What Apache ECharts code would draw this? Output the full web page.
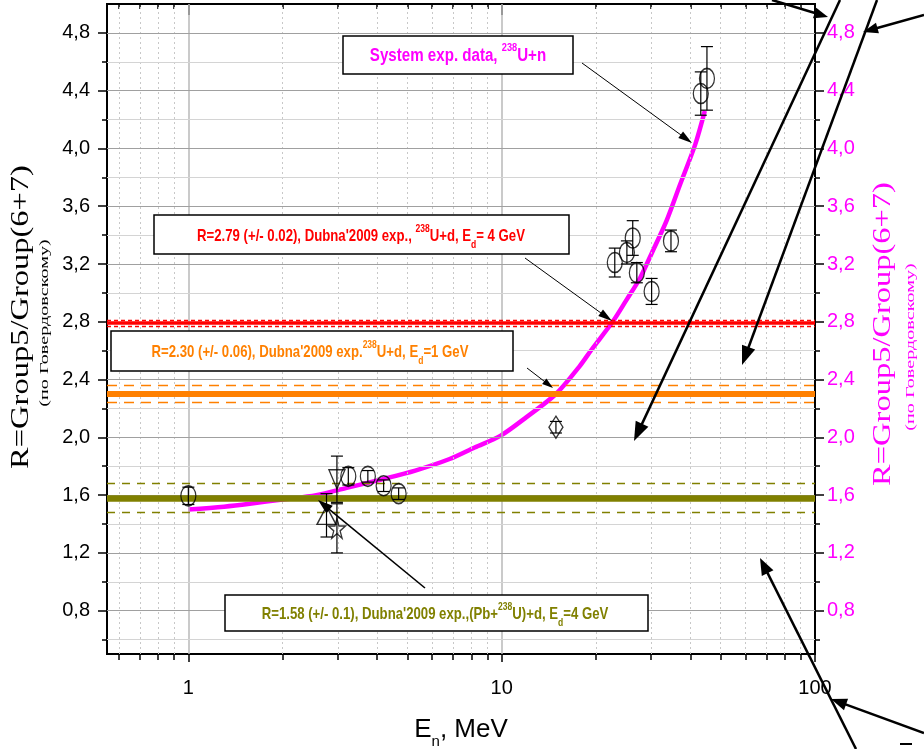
<!DOCTYPE html>
<html>
<head>
<meta charset="utf-8">
<script src="https://cdn.jsdelivr.net/npm/echarts@6/dist/echarts.min.js"></script>
<style>
html,body{margin:0;padding:0;background:#fff;}
#chart{width:924px;height:749px;}
</style>
</head>
<body>
<div id="chart"></div>
<script>
// Systematics curve for 238U+n: neutron energy (MeV) and ratio R
const curveE = [1.0, 1.3, 1.57, 2.0, 2.56, 3.2, 4.16, 5.3, 6.82, 8.2, 9.9, 12.0, 14.9, 17.7, 19.4, 22.6, 25.0, 27.6, 30.2, 33.6, 37.1, 41.5, 44.5];
const curveR = [1.50, 1.52, 1.54, 1.57, 1.60, 1.65, 1.71, 1.77, 1.85, 1.93, 2.01, 2.14, 2.30, 2.49, 2.61, 2.80, 2.95, 3.10, 3.28, 3.50, 3.75, 4.03, 4.26];

// Measured points, open circles
const circE   = [1.0, 3.24, 3.74, 4.2, 4.69, 22.96, 25.1, 26.2, 27.0, 30.1, 34.7, 43.2, 45.2];
const circR   = [1.595, 1.73, 1.73, 1.665, 1.61, 3.21, 3.28, 3.38, 3.14, 3.01, 3.36, 4.38, 4.485];
const circErr = [0.06, 0.06, 0.04, 0.04, 0.04, 0.10, 0.08, 0.12, 0.07, 0.09, 0.075, 0.15, 0.22];

// Other measurements (triangles, star, diamond)
const triDownE = [2.98], triDownR = [1.71], triDownErr = [0.16];
const triUpE   = [2.76], triUpR   = [1.46], triUpErr   = [0.15];
const starE    = [2.98], starR    = [1.37], starErr    = [0.17];
const diamE    = [14.9], diamR    = [2.07], diamErr    = [0.04];

// Dubna'2009 results: mean value and its uncertainty
const refR      = [2.79, 2.30, 1.58];
const refErr    = [0.02, 0.06, 0.1];
const refColors = ['#ff0000', '#ff8000', '#808000'];

// Axis ticks
const xMajor = [1, 10, 100];
const xMinor = [0.6, 0.7, 0.8, 0.9, 2, 3, 4, 5, 6, 7, 8, 9, 20, 30, 40, 50, 60, 70, 80, 90];
const yMajor = [0.8, 1.2, 1.6, 2.0, 2.4, 2.8, 3.2, 3.6, 4.0, 4.4, 4.8];
const yMinor = [0.6, 1.0, 1.4, 1.8, 2.2, 2.6, 3.0, 3.4, 3.8, 4.2, 4.6];

const SANS = '"Liberation Sans", Arial, sans-serif';
const SERIF = '"Liberation Serif", "Times New Roman", serif';

const zip3 = (a, b, c) => a.map((v, i) => [v, b[i], c[i]]);
const zip2 = (a, b) => a.map((v, i) => [v, b[i]]);

const chart = echarts.init(document.getElementById('chart'), null, {renderer: 'canvas'});

const axisLineStyle = {show: true, onZero: false, lineStyle: {color: '#000', width: 2}};
const tickStyle = {color: '#000', width: 1.5};

function xAx(position, values, len, inside, labels) {
  return {
    type: 'log', logBase: 10, min: 0.55, max: 100, position: position,
    axisLine: axisLineStyle,
    splitLine: {show: false},
    axisTick: {show: true, inside: inside, length: len, customValues: values, lineStyle: tickStyle},
    axisLabel: labels ? {
      show: true, customValues: values, margin: 24, fontSize: 20, color: '#000', fontFamily: SANS,
      formatter: v => String(Math.round(v))
    } : {show: false}
  };
}
function yAx(position, values, len, labels, color) {
  return {
    type: 'value', min: 0.5, max: 5.0, position: position,
    axisLine: axisLineStyle,
    splitLine: {show: false},
    axisTick: {show: true, inside: false, length: len, customValues: values, lineStyle: tickStyle},
    axisLabel: labels ? {
      show: true, customValues: values, margin: position === 'left' ? 17 : 12, fontSize: 20,
      color: color, fontFamily: SANS,
      formatter: v => v.toFixed(1).replace('.', ',')
    } : {show: false}
  };
}

// Grid lines drawn as mark lines so major and minor lines can differ
const gridLines = [];
xMajor.slice(0, 2).forEach(v => gridLines.push({xAxis: v, lineStyle: {color: '#b8b8b8', width: 1.5, type: 'solid'}}));
xMinor.forEach(v => gridLines.push({xAxis: v, lineStyle: {color: '#c8c8c8', width: 1, type: [2, 3]}}));
yMajor.forEach(v => gridLines.push({yAxis: v, lineStyle: {color: '#a0a0a0', width: 1.2, type: 'solid'}}));
yMinor.forEach(v => gridLines.push({yAxis: v, lineStyle: {color: '#d4d4d4', width: 1.2, type: 'solid'}}));

// Dubna'2009 levels: thick mean line with dashed uncertainty limits
const dashes = [[4, 3], [10, 7], [8, 7]];
const meanWidth = [3.5, 6, 6.5];
const refLines = [];
refR.forEach((r, i) => {
  refLines.push({yAxis: r, lineStyle: {color: refColors[i], width: meanWidth[i], type: 'solid'}});
  refLines.push({yAxis: r + refErr[i], lineStyle: {color: refColors[i], width: 1.3, type: dashes[i]}});
  refLines.push({yAxis: r - refErr[i], lineStyle: {color: refColors[i], width: 1.3, type: dashes[i]}});
});

function errorBars(params, api) {
  const x = api.value(0), y = api.value(1), e = api.value(2);
  const hi = api.coord([x, y + e]);
  const lo = api.coord([x, y - e]);
  const hw = 6;
  const st = {stroke: '#000', lineWidth: 1.2};
  return {
    type: 'group',
    children: [
      {type: 'line', shape: {x1: hi[0], y1: hi[1], x2: lo[0], y2: lo[1]}, style: st},
      {type: 'line', shape: {x1: hi[0] - hw, y1: hi[1], x2: hi[0] + hw, y2: hi[1]}, style: st},
      {type: 'line', shape: {x1: lo[0] - hw, y1: lo[1], x2: lo[0] + hw, y2: lo[1]}, style: st}
    ]
  };
}

const hollow = {color: 'rgba(0,0,0,0)', borderColor: '#000', borderWidth: 1.4};
const starPath = 'path://M50,0 L61,35 L98,35 L68,57 L79,91 L50,70 L21,91 L32,57 L2,35 L39,35 Z';

function scatter(name, E, R, symbol, size, rotate) {
  return {
    name: name, type: 'scatter', data: zip2(E, R), symbol: symbol, symbolSize: size,
    symbolRotate: rotate || 0, itemStyle: hollow, z: 6, silent: true
  };
}

// Arrow helper for annotations: line from (x1,y1) to the tip (x2,y2)
function arrow(x1, y1, x2, y2, w, hl, hw) {
  const dx = x2 - x1, dy = y2 - y1, L = Math.hypot(dx, dy);
  const ux = dx / L, uy = dy / L;
  const bx = x2 - ux * hl, by = y2 - uy * hl;
  return [
    {type: 'line', z: 60, silent: true, shape: {x1: x1, y1: y1, x2: bx + ux * 2, y2: by + uy * 2},
     style: {stroke: '#000', lineWidth: w}},
    {type: 'polygon', z: 60, silent: true,
     shape: {points: [[x2, y2], [bx - uy * hw / 2, by + ux * hw / 2], [bx + uy * hw / 2, by - ux * hw / 2]]},
     style: {fill: '#000'}}
  ];
}

function boxRich(color, size) {
  const s = Math.round(size * 0.62);
  return {
    m: {fill: color, fontFamily: SANS, fontWeight: 'bold', fontSize: size, lineHeight: size + 3,
        padding: [Math.round(size * 0.3), 0, 0, 0], verticalAlign: 'top'},
    sup: {fill: color, fontFamily: SANS, fontWeight: 'bold', fontSize: s, lineHeight: s, verticalAlign: 'top'},
    sub: {fill: color, fontFamily: SANS, fontWeight: 'bold', fontSize: s, lineHeight: s,
          padding: [Math.round(size * 0.95), 0, 0, 0], verticalAlign: 'top'}
  };
}

// Framed label; the bold text is condensed horizontally to a narrow face
function textBox(x, y, w, h, cx, cy, text, color, size, squeeze) {
  return [
    {type: 'rect', z: 50, silent: true, shape: {x: x, y: y, width: w, height: h},
     style: {fill: '#fff', stroke: '#000', lineWidth: 1.5}},
    {type: 'text', z: 51, silent: true, x: cx, y: cy, scaleX: squeeze,
     style: {text: text, align: 'center', verticalAlign: 'middle', rich: boxRich(color, size)}}
  ];
}

const graphics = [].concat(
  // axis titles
  [
    {type: 'text', silent: true, x: 21, y: 317, rotation: Math.PI / 2, scaleX: 1.25,
     style: {text: 'R=Group5/Group(6+7)', fontFamily: SERIF, fontSize: 26, fill: '#000', align: 'center', verticalAlign: 'middle'}},
    {type: 'text', silent: true, x: 45, y: 323, rotation: Math.PI / 2, scaleX: 1.55,
     style: {text: '(по Говердовскому)', fontFamily: SERIF, fontSize: 13, fill: '#000', align: 'center', verticalAlign: 'middle'}},
    {type: 'text', silent: true, x: 883, y: 334, rotation: Math.PI / 2, scaleX: 1.25,
     style: {text: 'R=Group5/Group(6+7)', fontFamily: SERIF, fontSize: 26, fill: '#ff00ff', align: 'center', verticalAlign: 'middle'}},
    {type: 'text', silent: true, x: 911, y: 347, rotation: Math.PI / 2, scaleX: 1.55,
     style: {text: '(по Говердовскому)', fontFamily: SERIF, fontSize: 13, fill: '#ff00ff', align: 'center', verticalAlign: 'middle'}},
    {type: 'text', silent: true, x: 461, y: 717,
     style: {text: '{m|E}{s|n}{m|, MeV}', align: 'center', verticalAlign: 'top',
       rich: {
         m: {fill: '#000', fontFamily: SANS, fontSize: 26, lineHeight: 28, verticalAlign: 'top'},
         s: {fill: '#000', fontFamily: SANS, fontSize: 15, lineHeight: 15, padding: [17, 0, 0, 0], verticalAlign: 'top'}
       }}}
  ],
  // labelled boxes
  textBox(343, 36, 230, 38, 458, 53, '{m|System exp. data, }{sup|238}{m|U+n}', '#ff00ff', 18, 0.84),
  textBox(154, 215, 415, 39, 361, 233, "{m|R=2.79 (+/- 0.02), Dubna'2009 exp., }{sup|238}{m|U+d, E}{sub|d}{m|= 4 GeV}", '#ff0000', 17, 0.775),
  textBox(111, 331, 402, 40, 310, 349, "{m|R=2.30 (+/- 0.06), Dubna'2009 exp.}{sup|238}{m|U+d, E}{sub|d}{m|=1 GeV}", '#ff8000', 17, 0.775),
  textBox(225, 595, 423, 36, 435, 611, "{m|R=1.58 (+/- 0.1), Dubna'2009 exp.,(Pb+}{sup|238}{m|U)+d, E}{sub|d}{m|=4 GeV}", '#808000', 17, 0.775),
  // thin pointers from the boxes
  arrow(582, 63, 692, 143, 1, 14, 8),
  arrow(525, 258, 612, 321, 1, 14, 8),
  arrow(527, 368, 553, 388, 1, 11, 7),
  arrow(425, 588, 318, 500, 1.6, 15, 10),
  // heavy pointers
  arrow(840, 0, 634, 441, 2.5, 19, 14),
  arrow(877, 0, 742, 365, 2.5, 19, 14),
  arrow(772, 0, 828, 17, 2.5, 14, 11),
  arrow(924, 15, 863, 32, 2.5, 15, 11),
  arrow(856, 749, 760, 558, 2.5, 17, 13),
  arrow(924, 733, 831, 699, 2.5, 16, 12),
  [{type: 'line', z: 60, silent: true, shape: {x1: 900, y1: 744, x2: 912, y2: 744}, style: {stroke: '#000', lineWidth: 2}}]
);

const option = {
  animation: false,
  backgroundColor: '#fff',
  grid: {left: 107, right: 109, top: 4, bottom: 95},
  xAxis: [
    xAx('bottom', xMajor, 8, false, true),
    xAx('bottom', xMinor, 6, false, false),
    xAx('top', xMajor, 11, true, false),
    xAx('top', xMinor, 5, true, false)
  ],
  yAxis: [
    yAx('left', yMajor, 9, true, '#000'),
    yAx('left', yMinor, 5, false),
    yAx('right', yMajor, 9, true, '#ff00ff'),
    yAx('right', yMinor, 5, false)
  ],
  series: [
    {name: 'grid', type: 'line', data: [], z: 1, silent: true,
     markLine: {silent: true, symbol: ['none', 'none'], label: {show: false}, animation: false, data: gridLines}},
    {name: 'Dubna2009', type: 'line', data: [], z: 3, silent: true,
     markLine: {silent: true, symbol: ['none', 'none'], label: {show: false}, animation: false, data: refLines}},
    {name: 'systematics', type: 'line', data: zip2(curveE, curveR), smooth: 0.3,
     showSymbol: false, symbol: 'none', lineStyle: {color: '#ff00ff', width: 4.5}, z: 4, silent: true},
    {name: 'errors', type: 'custom', renderItem: errorBars, z: 5, silent: true,
     data: [].concat(zip3(circE, circR, circErr), zip3(triDownE, triDownR, triDownErr),
                     zip3(triUpE, triUpR, triUpErr), zip3(starE, starR, starErr), zip3(diamE, diamR, diamErr))},
    scatter('circles', circE, circR, 'circle', [15, 20]),
    scatter('triDown', triDownE, triDownR, 'triangle', [16, 19], 180),
    scatter('triUp', triUpE, triUpR, 'triangle', [19, 18]),
    scatter('star', starE, starR, starPath, [17, 20]),
    scatter('diamond', diamE, diamR, 'diamond', [14, 22])
  ],
  graphic: {elements: graphics}
};

chart.setOption(option);
</script>
</body>
</html>
